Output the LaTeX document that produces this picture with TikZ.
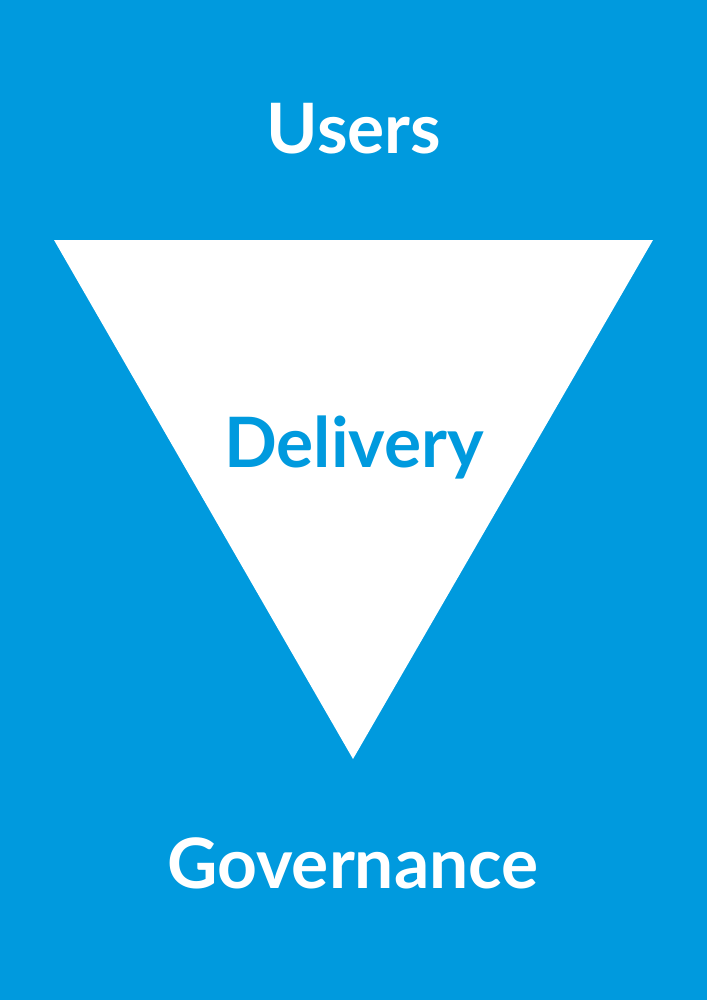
\documentclass[tikz,border=0pt]{standalone}
\usepackage{fontspec}
\setmainfont{Lato}
\definecolor{govblue}{HTML}{009ADE}
\begin{document}
\begin{tikzpicture}[x=1bp,y=-1bp,
  label/.style={font=\fontsize{69.5bp}{80bp}\selectfont\bfseries, anchor=base, inner sep=0pt}]
\fill[govblue] (0,0) rectangle (707,1000);
\useasboundingbox (0,0) rectangle (707,1000);
\coordinate (tl) at (54,240);
\coordinate (tr) at (653,240);
\coordinate (bt) at (353,759);
\fill[white] (tl) -- (tr) -- (bt) -- cycle;
\node[label, text=white] (users) at (354,153) {Users};
\node[label, text=govblue] (delivery) at (354,467) {Delivery};
\node[label, text=white] (gov) at (353,888) {Governance};
\end{tikzpicture}
\end{document}
